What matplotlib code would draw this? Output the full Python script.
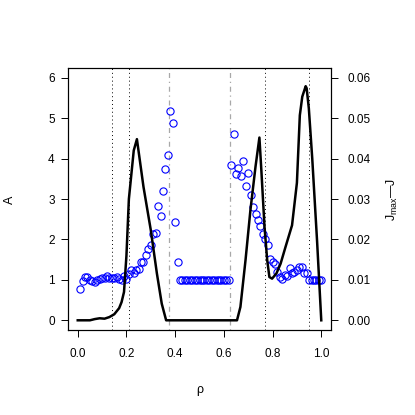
import matplotlib
matplotlib.use("Agg")
import matplotlib.pyplot as plt

plt.rcParams['font.family'] = ['Liberation Sans', 'DejaVu Sans']
plt.rcParams['mathtext.fontset'] = 'custom'
plt.rcParams['mathtext.rm'] = 'Liberation Sans'
plt.rcParams['mathtext.it'] = 'Liberation Sans'

# Points: A versus rho
rho_pts = [0.01, 0.02, 0.03, 0.04, 0.05, 0.06, 0.07, 0.08, 0.09, 0.10,
           0.11, 0.12, 0.13, 0.14, 0.15, 0.16, 0.17, 0.18, 0.19, 0.20,
           0.21, 0.22, 0.23, 0.24, 0.25, 0.26, 0.27, 0.28, 0.29, 0.30,
           0.31, 0.32, 0.33, 0.34, 0.35, 0.36, 0.37, 0.38, 0.39, 0.40,
           0.41, 0.42, 0.43, 0.44, 0.45, 0.46, 0.47, 0.48, 0.49, 0.50,
           0.51, 0.52, 0.53, 0.54, 0.55, 0.56, 0.57, 0.58, 0.59, 0.60,
           0.61, 0.62, 0.63, 0.64, 0.65, 0.66, 0.67, 0.68, 0.69, 0.70,
           0.71, 0.72, 0.73, 0.74, 0.75, 0.76, 0.77, 0.78, 0.79, 0.80,
           0.81, 0.82, 0.83, 0.84, 0.85, 0.86, 0.87, 0.88, 0.89, 0.90,
           0.91, 0.92, 0.93, 0.94, 0.95, 0.96, 0.97, 0.98, 0.99, 1.00]
A_pts = [0.78, 0.97, 1.06, 1.07, 0.99, 0.96, 0.94, 1.00, 1.03, 1.05,
         1.04, 1.10, 1.04, 1.04, 1.04, 1.07, 1.02, 0.99, 1.09, 1.03,
         1.15, 1.24, 1.18, 1.24, 1.28, 1.43, 1.43, 1.61, 1.77, 1.86,
         2.13, 2.15, 2.82, 2.59, 3.19, 3.73, 4.10, 5.17, 4.88, 2.44,
         1.44, 1.00, 1.00, 1.00, 1.00, 1.00, 1.00, 1.00, 1.00, 1.00,
         1.00, 1.00, 1.00, 1.00, 1.00, 1.00, 1.00, 1.00, 1.00, 1.00,
         1.00, 1.00, 3.84, 4.61, 3.61, 3.77, 3.56, 3.94, 3.33, 3.65,
         3.11, 2.80, 2.64, 2.48, 2.33, 2.14, 2.00, 1.85, 1.52, 1.43,
         1.39, 1.20, 1.07, 1.03, 1.13, 1.09, 1.29, 1.18, 1.19, 1.25,
         1.32, 1.32, 1.16, 1.16, 1.00, 1.00, 1.00, 1.00, 1.00, 1.00]

# Line: Jmax - J versus rho
rho_line = [0.00, 0.05, 0.07, 0.09, 0.11, 0.13, 0.15, 0.17, 0.18, 0.19,
            0.20, 0.21, 0.22, 0.23, 0.243, 0.27, 0.30, 0.325, 0.345, 0.363,
            0.654, 0.668, 0.689, 0.709, 0.73, 0.746, 0.754, 0.767, 0.778, 0.787,
            0.798, 0.816, 0.833, 0.853, 0.88, 0.90, 0.912, 0.922, 0.936, 0.94,
            0.949, 0.963, 0.983, 1.00]
J_line = [0.0, 0.0, 0.0003, 0.0005, 0.0004, 0.0008, 0.0015, 0.003, 0.0045, 0.007,
          0.016, 0.030, 0.036, 0.042, 0.0448, 0.033, 0.0223, 0.0116, 0.0041, 0.0,
          0.0, 0.0033, 0.0149, 0.0272, 0.038, 0.0452, 0.0371, 0.0231, 0.0149, 0.0107,
          0.0103, 0.0116, 0.0140, 0.0181, 0.0235, 0.0340, 0.0507, 0.0553, 0.0579, 0.0574,
          0.0524, 0.040, 0.0194, 0.0]

vlines_dotted = [0.142, 0.212, 0.768, 0.949]
vlines_dashdot = [0.373, 0.627]

x_ticks = [0.0, 0.2, 0.4, 0.6, 0.8, 1.0]
y_ticks = [0, 1, 2, 3, 4, 5, 6]
y2_ticks = [0.00, 0.01, 0.02, 0.03, 0.04, 0.05, 0.06]

fig = plt.figure(figsize=(4.15, 4.15), dpi=100)
ax = fig.add_axes([68/415, 1-330/415, (331-68)/415, (330-68)/415])
ax2 = ax.twinx()

for v in vlines_dotted:
    ax.axvline(v, color='black', lw=0.7, linestyle=(0, (1, 3)))
for v in vlines_dashdot:
    ax.axvline(v, color='#A8A8A8', lw=0.9, linestyle=(0, (1, 3, 4, 3)))

ax.plot(rho_pts, A_pts, linestyle='none', marker='o', markersize=5.2,
        markerfacecolor='none', markeredgecolor='#0000FF', markeredgewidth=0.8)

ax2.plot(rho_line, J_line, color='black', lw=1.8)

ax.set_xlim(-0.04, 1.04)
ax.set_ylim(-0.24, 6.24)
ax2.set_ylim(-0.0024, 0.0624)

ax.set_xticks(x_ticks)
ax.set_xticklabels(['0.0', '0.2', '0.4', '0.6', '0.8', '1.0'])
ax.set_yticks(y_ticks)
ax.set_yticklabels([str(t) for t in y_ticks])
ax2.set_yticks(y2_ticks)
ax2.set_yticklabels(['%.2f' % t for t in y2_ticks])

ax.tick_params(axis='x', direction='out', length=5, width=0.7, labelsize=8.5, pad=8)
ax.tick_params(axis='y', direction='out', length=5, width=0.7, labelsize=8.5, pad=4.5)
ax2.tick_params(axis='y', direction='out', length=5, width=0.7, labelsize=8.5, pad=7)

for a in (ax, ax2):
    for s in a.spines.values():
        s.set_linewidth(0.8)

# Detach spines a bit like R's axis (ticks span data range only)
fig.text(10/415, 1-200/415, 'A', rotation=90, ha='center', va='center', fontsize=9)
fig.text(200/415, 1-390/415, 'ρ', ha='center', va='center', fontsize=9)
fig.text(392/415, 1-199/415, r'$\mathregular{J_{max}}$' + '\u2014J', rotation=90,
         ha='center', va='center', fontsize=9)

fig.savefig('out.png', dpi=100)
